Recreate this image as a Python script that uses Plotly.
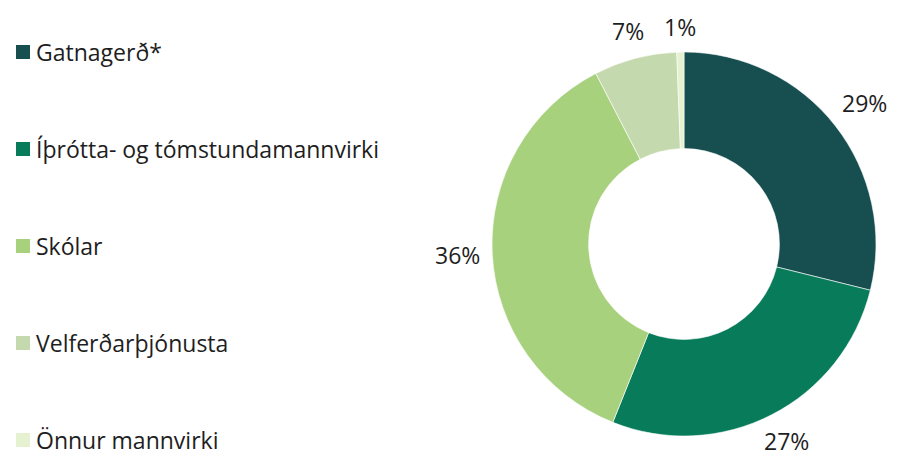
import math
import plotly.graph_objects as go

categories = ["Gatnagerð*", "Íþrótta- og tómstundamannvirki", "Skólar", "Velferðarþjónusta", "Önnur mannvirki"]
values = [28.9, 27.2, 36.4, 7.0, 0.6]
colors = ["#174E4F", "#077B5A", "#A8D17E", "#C5D9AE", "#E5F1CF"]

W, H = 900, 456
cx, cy, r = 684, 244, 192

fig = go.Figure()
fig.add_trace(go.Pie(
    labels=categories, values=values, sort=False, direction="clockwise", rotation=0,
    hole=0.497, marker=dict(colors=colors, line=dict(color="white", width=0.6)),
    textinfo="none", hoverinfo="label+percent",
    domain=dict(x=[(cx - r) / W, (cx + r) / W], y=[1 - (cy + r) / H, 1 - (cy - r) / H]),
    showlegend=False,
))

# Percentage labels placed outside each slice at its mid-angle
total = sum(values)
cum = 0
lab_font = dict(family="Open Sans", size=23, color="#1e1e1e")
for v in values:
    pct = round(100 * v / total)
    txt = f"{pct}%"
    mid = (cum + v / 2) / total * 2 * math.pi
    cum += v
    w = 13.5 * len(txt)
    h = 22
    s, c = math.sin(mid), math.cos(mid)
    d = r + 14 + abs(s) * w / 2 + abs(c) * h / 2
    px = cx + d * s
    py = min(max(cy - d * c, 14), H - 15)
    fig.add_annotation(x=px / W, y=1 - py / H, xref="paper", yref="paper",
                       text=txt, showarrow=False, xanchor="center", yanchor="middle",
                       font=lab_font)

# Legend drawn manually (large spacing like the original)
leg_top, leg_gap, sq = 52, 97, 14
for i, (cat, col) in enumerate(zip(categories, colors)):
    yc = leg_top + i * leg_gap
    fig.add_shape(type="rect", xref="paper", yref="paper",
                  x0=16 / W, x1=(16 + sq) / W, y0=1 - (yc - sq / 2) / H, y1=1 - (yc + sq / 2) / H,
                  fillcolor=col, line=dict(width=0))
    fig.add_annotation(x=34 / W, y=1 - yc / H, xref="paper", yref="paper",
                       text=cat, showarrow=False, xanchor="left", yanchor="middle",
                       font=dict(family="Open Sans", size=23, color="#1e1e1e"))

fig.update_layout(
    width=W, height=H, margin=dict(l=0, r=0, t=0, b=0),
    paper_bgcolor="white", plot_bgcolor="white",
    font=dict(family="Open Sans"),
)
fig.write_html("out.html", config={"displayModeBar": False},
               post_script="document.body.style.margin='0';document.body.style.overflow='hidden';")
